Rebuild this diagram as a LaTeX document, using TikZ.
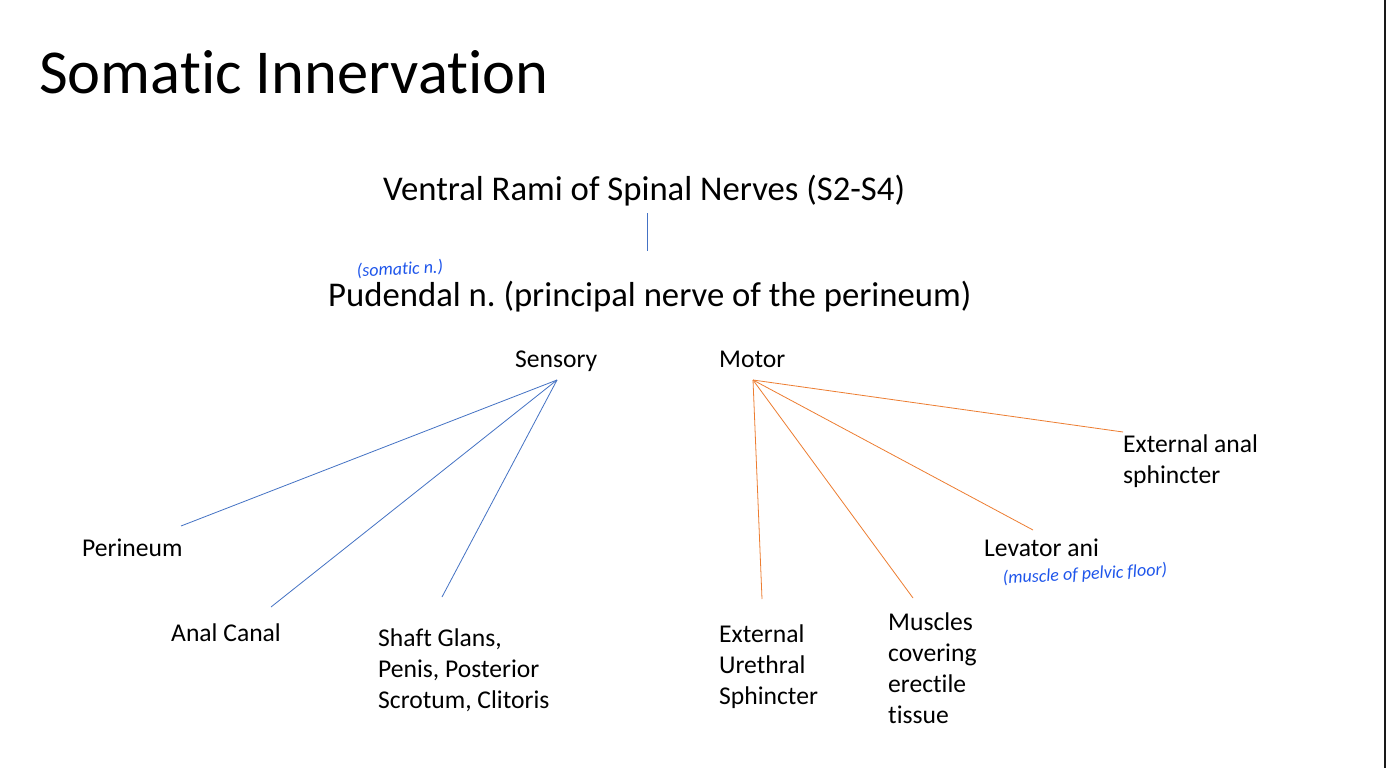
\documentclass[tikz,border=0pt]{standalone}
\usepackage{fontspec}
\setmainfont{Carlito}[Ligatures=NoCommon]
\usepackage{tikz}
\usetikzlibrary{positioning}
\definecolor{NerveBlue}{RGB}{68,114,196}
\definecolor{NerveOrange}{RGB}{237,125,49}
\definecolor{InkBlue}{RGB}{30,85,235}
\frenchspacing

\begin{document}
\begin{tikzpicture}[x=1pt, y=-1pt,
    lbl/.style={inner sep=0pt, anchor=base west, align=left,
                font=\fontsize{25.6}{31}\selectfont},
    head/.style={inner sep=0pt, anchor=base west,
                 font=\fontsize{34.7}{40}\selectfont},
    note/.style={inner sep=0pt, anchor=base west, text=InkBlue,
                 font=\fontsize{18}{20}\selectfont\itshape},
    sens/.style={NerveBlue, line width=0.8pt},
    mot/.style={NerveOrange, line width=0.8pt}
  ]
  \useasboundingbox[fill=white] (0,0) rectangle (1386,768);
  \fill[black!90] (1384,0) rectangle (1386,768);

  % Title
  \node[inner sep=0pt, anchor=base west, font=\fontsize{62.5}{70}\selectfont]
        (title) at (39,93) {Somatic Innervation};

  % Origin and main nerve
  \node[head] (rami) at (383,200) {Ventral Rami of Spinal Nerves (S2-S4)};
  \node[head] (pudendal) at (328,306) {Pudendal n. (principal nerve of the perineum)};
  \node[note, rotate=3] (somnote) at (357,277) {(somatic n.)};
  \coordinate (ramiend) at (647,213);
  \coordinate (pudtop) at (647,251);
  \draw[sens] (ramiend) -- (pudtop);

  % Branches
  \node[lbl] (sensory) at (515,367) {Sensory};
  \node[lbl] (motor) at (719,367) {Motor};
  \coordinate (senshub) at (557,380);
  \coordinate (mothub) at (753,380);

  % Sensory targets (base = last line)
  \node[lbl] (perineum) at (82,556) {Perineum};
  \node[lbl] (anal) at (171,641) {Anal Canal};
  \node[lbl] (shaft) at (378,708) {Shaft Glans,\\Penis, Posterior\\Scrotum, Clitoris};
  \coordinate (perend) at (181,526);
  \coordinate (analend) at (271,607);
  \coordinate (shaftend) at (442,597);
  \foreach \t in {perend, analend, shaftend}
    \draw[sens] (senshub) -- (\t);

  % Motor targets
  \node[lbl] (urethral) at (719,704) {External\\Urethral\\Sphincter};
  \node[lbl] (erectile) at (888,723) {Muscles\\covering\\erectile\\tissue};
  \node[lbl] (levator) at (984,556) {Levator ani};
  \node[note, rotate=3] (levnote) at (1003,584) {(muscle of pelvic floor)};
  \node[lbl] (analsph) at (1123,483) {External anal\\sphincter};
  \coordinate (urend) at (762,599);
  \coordinate (erend) at (913,598);
  \coordinate (levend) at (1033,530);
  \coordinate (asphend) at (1123,432);
  \foreach \t in {urend, erend, levend, asphend}
    \draw[mot] (mothub) -- (\t);
\end{tikzpicture}
\end{document}
